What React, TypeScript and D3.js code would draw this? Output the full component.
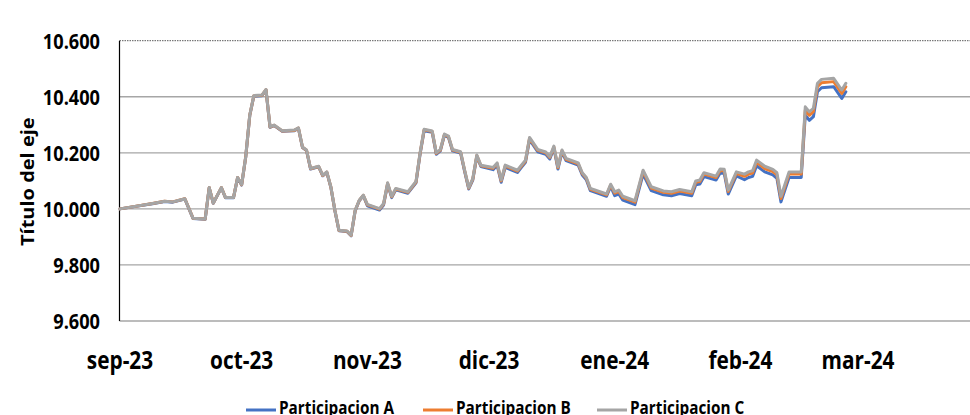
import React from 'react';
import * as d3 from 'd3';

const dates = [
  '2023-09-01','2023-09-09','2023-09-12','2023-09-14','2023-09-17','2023-09-19','2023-09-22','2023-09-23','2023-09-24','2023-09-26',
  '2023-09-27','2023-09-29','2023-09-30','2023-10-01','2023-10-02','2023-10-03','2023-10-04','2023-10-06','2023-10-07','2023-10-08',
  '2023-10-09','2023-10-11','2023-10-14','2023-10-15','2023-10-16','2023-10-17','2023-10-18','2023-10-20','2023-10-21','2023-10-22',
  '2023-10-23','2023-10-24','2023-10-25','2023-10-27','2023-10-28','2023-10-29','2023-10-30','2023-10-31','2023-11-01','2023-11-04',
  '2023-11-05','2023-11-06','2023-11-07','2023-11-08','2023-11-11','2023-11-13','2023-11-14','2023-11-15','2023-11-17','2023-11-18',
  '2023-11-19','2023-11-20','2023-11-21','2023-11-22','2023-11-24','2023-11-25','2023-11-26','2023-11-27','2023-11-28','2023-11-29',
  '2023-12-02','2023-12-03','2023-12-04','2023-12-05','2023-12-08','2023-12-09','2023-12-10','2023-12-11','2023-12-13','2023-12-15',
  '2023-12-16','2023-12-17','2023-12-18','2023-12-19','2023-12-20','2023-12-23','2023-12-24','2023-12-25','2023-12-26','2023-12-30',
  '2023-12-31','2024-01-01','2024-01-02','2024-01-03','2024-01-06','2024-01-08','2024-01-10','2024-01-13','2024-01-15','2024-01-17',
  '2024-01-20','2024-01-21','2024-01-22','2024-01-23','2024-01-26','2024-01-27','2024-01-28','2024-01-29','2024-01-31','2024-02-02',
  '2024-02-03','2024-02-04','2024-02-05','2024-02-07','2024-02-09','2024-02-10','2024-02-11','2024-02-13','2024-02-16','2024-02-17',
  '2024-02-18','2024-02-19','2024-02-20','2024-02-21','2024-02-24','2024-02-26','2024-02-27',
];

const seriesA = [
  10000,10018,10026,10024,10035,9966,9963,10075,10020,10075,
  10040,10040,10111,10085,10184,10333,10402,10404,10424,10291,
  10297,10277,10279,10287,10219,10208,10142,10150,10118,10130,
  10077,9993,9922,9919,9904,9993,10029,10047,10011,9996,
  10014,10088,10040,10068,10056,10093,10195,10279,10273,10195,
  10207,10262,10255,10207,10199,10133,10071,10103,10187,10151,
  10140,10156,10095,10148,10130,10148,10166,10247,10204,10195,
  10178,10216,10142,10202,10172,10156,10121,10104,10065,10045,
  10080,10047,10053,10031,10015,10124,10065,10050,10047,10055,
  10047,10086,10089,10115,10103,10128,10127,10053,10118,10104,
  10112,10116,10154,10132,10121,10109,10025,10112,10112,10334,
  10316,10329,10418,10432,10436,10394,10418,
];

const seriesB = [
  10000,10019,10027,10025,10036,9967,9964,10076,10021,10076,
  10041,10041,10112,10086,10185,10334,10403,10405,10425,10292,
  10298,10278,10280,10288,10220,10209,10143,10151,10119,10131,
  10078,9994,9923,9920,9905,9994,10030,10048,10014,9999,
  10017,10091,10043,10071,10059,10096,10198,10282,10276,10198,
  10210,10265,10258,10210,10202,10136,10074,10106,10190,10154,
  10145,10161,10100,10153,10135,10153,10171,10252,10209,10200,
  10183,10221,10147,10207,10177,10161,10126,10109,10070,10050,
  10085,10056,10062,10040,10024,10133,10074,10059,10056,10064,
  10056,10095,10098,10124,10112,10137,10136,10062,10127,10116,
  10124,10128,10166,10144,10133,10121,10037,10124,10124,10352,
  10334,10347,10436,10450,10454,10412,10436,
];

const seriesC = [
  10000,10019,10027,10025,10036,9967,9964,10076,10021,10076,
  10041,10041,10112,10087,10186,10335,10404,10406,10426,10293,
  10299,10279,10281,10289,10221,10210,10144,10152,10120,10132,
  10079,9995,9924,9921,9906,9995,10031,10049,10016,10001,
  10019,10093,10045,10073,10061,10098,10200,10284,10278,10200,
  10212,10267,10260,10212,10204,10138,10076,10108,10192,10156,
  10148,10164,10103,10156,10138,10156,10174,10255,10212,10203,
  10186,10224,10150,10210,10180,10164,10129,10112,10073,10053,
  10088,10061,10067,10045,10029,10138,10079,10064,10061,10069,
  10061,10100,10103,10129,10117,10142,10141,10067,10132,10124,
  10132,10136,10174,10152,10141,10129,10045,10132,10132,10364,
  10346,10359,10448,10462,10466,10424,10448,
];

const seriesNames = ['Participacion A', 'Participacion B', 'Participacion C'];
const seriesColors = ['#4472C4', '#ED7D31', '#A5A5A5'];
const monthTicks = ['2023-09-01','2023-10-01','2023-11-01','2023-12-01','2024-01-01','2024-02-01','2024-03-01'];
const monthLabels = ['sep-23','oct-23','nov-23','dic-23','ene-24','feb-24','mar-24'];
const yTicks = [9600, 9800, 10000, 10200, 10400, 10600];
const axisTitle = 'Título del eje';

const W = 970;
const H = 415;
const FONT = "'Open Sans', 'DejaVu Sans', sans-serif";
const SX = 0.85;

export default function App() {
  const parse = d3.utcParse('%Y-%m-%d');
  const x = d3.scaleUtc()
    .domain([parse('2023-09-01') as Date, parse('2024-03-01') as Date])
    .range([120, 858]);
  const y = d3.scaleLinear().domain([9600, 10600]).range([321, 40.7]);
  const loc = d3.formatLocale({ decimal: ',', thousands: '.', grouping: [3], currency: ['', ''] });
  const fmt = loc.format(',.0f');
  const xs = dates.map((d) => x(parse(d) as Date));
  const series = [seriesA, seriesB, seriesC];
  const line = (vals: number[]) =>
    d3.line<number>().x((_, i) => xs[i]).y((v) => y(v))(vals) || '';

  const plotLeft = 119.5;
  const plotRight = W;

  const legendX = [246, 423, 597];

  return (
    <svg width={W} height={H} style={{ position: 'absolute', left: 0, top: 0, background: '#fff' }} fontFamily={FONT}>
      <rect x={0} y={0} width={W} height={H} fill="#fff" />
      {yTicks.map((t, i) =>
        i === yTicks.length - 1 ? (
          <line key={t} x1={plotLeft} x2={plotRight} y1={y(t)} y2={y(t)} stroke="#595959" strokeWidth={1} strokeDasharray="1.5,1" />
        ) : (
          <line key={t} x1={plotLeft} x2={plotRight} y1={y(t)} y2={y(t)} stroke="#a6a6a6" strokeWidth={1.3} />
        )
      )}
      <line x1={plotLeft} x2={plotLeft} y1={y(10600)} y2={y(9600)} stroke="#000" strokeWidth={1.2} />
      {yTicks.map((t) => (
        <text key={t} transform={`translate(100, ${y(t) + 7.8}) scale(${SX},1)`} textAnchor="end" fontSize={21.4} fontWeight={700} fill="#000">
          {fmt(t)}
        </text>
      ))}
      {monthTicks.map((m, i) => (
        <text key={m} transform={`translate(${x(parse(m) as Date)}, 369) scale(${SX},1)`} textAnchor="middle" fontSize={24.5} fontWeight={700} fill="#000">
          {monthLabels[i]}
        </text>
      ))}
      <text transform={`translate(34, 181.7) scale(${SX},1) rotate(-90)`} textAnchor="middle" fontSize={20} fontWeight={700} fill="#000">
        {axisTitle}
      </text>
      {series.map((s, i) => (
        <path key={i} d={line(s)} fill="none" stroke={seriesColors[i]} strokeWidth={3} strokeLinejoin="round" strokeLinecap="round" />
      ))}
      {seriesNames.map((n, i) => (
        <g key={n}>
          <line x1={legendX[i]} x2={legendX[i] + 30} y1={410} y2={410} stroke={seriesColors[i]} strokeWidth={3} />
          <text transform={`translate(${legendX[i] + 33}, 414) scale(${SX},1)`} fontSize={18} fontWeight={700} fill="#000">
            {n}
          </text>
        </g>
      ))}
    </svg>
  );
}
